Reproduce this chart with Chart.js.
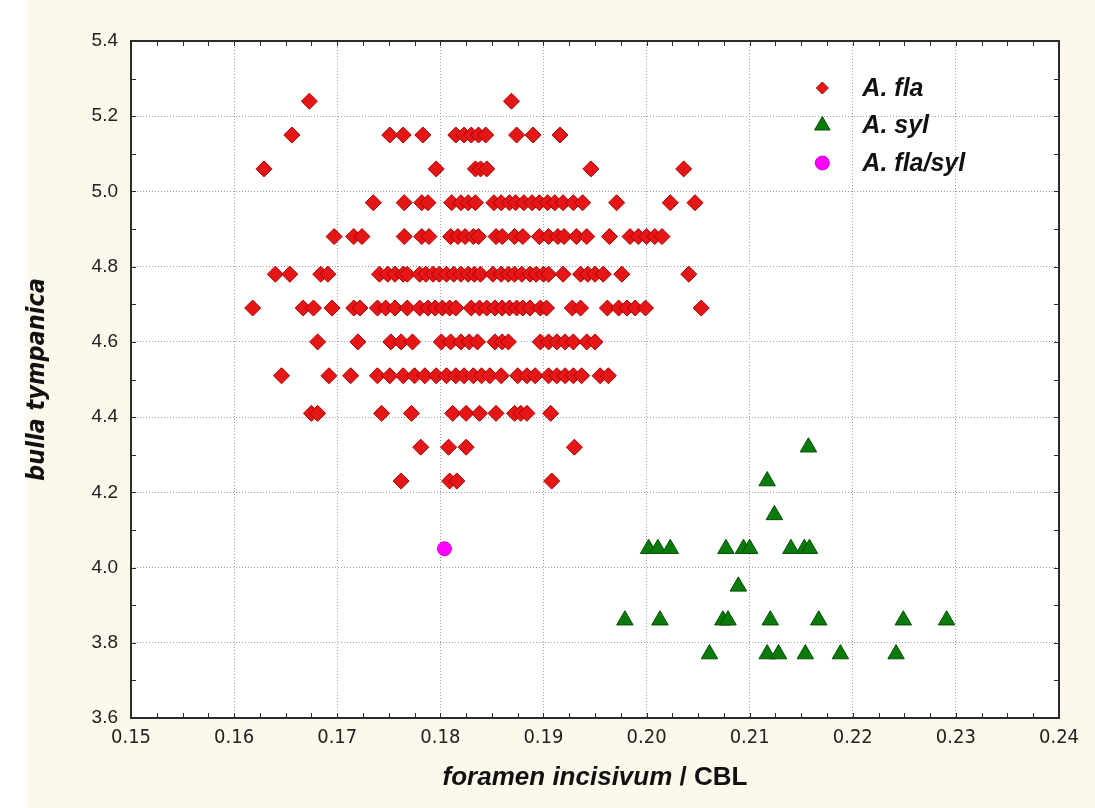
<!DOCTYPE html>
<html>
<head>
<meta charset="utf-8">
<title>bulla tympanica / foramen incisivum</title>
<script src="https://cdn.jsdelivr.net/npm/chart.js@4.4.1/dist/chart.umd.min.js"></script>
<style>
  html, body { margin: 0; padding: 0; background: #fcf8ec; overflow: hidden; scrollbar-width: none; }
  ::-webkit-scrollbar { display: none; }
  body { width: 1095px; height: 808px; }
  #wrap { position: relative; width: 1095px; height: 808px; }
  canvas { display: block; }
</style>
</head>
<body>
<div id="wrap"><canvas id="scatterChart" width="1095" height="808"></canvas></div>
<script>
// axis ticks
var xTicks = [0.15, 0.16, 0.17, 0.18, 0.19, 0.20, 0.21, 0.22, 0.23, 0.24];
var yTicks = [3.6, 3.8, 4.0, 4.2, 4.4, 4.6, 4.8, 5.0, 5.2, 5.4];

// A. fla : bulla levels and the x values found on each level
var flaLevels = [5.24, 5.15, 5.06, 4.97, 4.88, 4.78, 4.69, 4.60, 4.51, 4.41, 4.32, 4.23];
var flaX = [
  [0.1673, 0.1869],
  [0.1656, 0.1751, 0.1764, 0.1783, 0.1815, 0.1823, 0.1830, 0.1837, 0.1844, 0.1874, 0.1890, 0.1916],
  [0.1629, 0.1796, 0.1834, 0.1839, 0.1845, 0.1946, 0.2036],
  [0.1735, 0.1765, 0.1782, 0.1788, 0.1811, 0.1820, 0.1827, 0.1834, 0.1852, 0.1859, 0.1867, 0.1873,
   0.1881, 0.1889, 0.1896, 0.1904, 0.1911, 0.1919, 0.1929, 0.1938, 0.1971, 0.2023, 0.2047],
  [0.1697, 0.1716, 0.1724, 0.1765, 0.1782, 0.1789, 0.1810, 0.1817, 0.1824, 0.1832, 0.1837, 0.1854,
   0.1860, 0.1872, 0.1880, 0.1896, 0.1905, 0.1914, 0.1920, 0.1932, 0.1942, 0.1964, 0.1984, 0.1992,
   0.2000, 0.2008, 0.2015],
  [0.1640, 0.1654, 0.1684, 0.1691, 0.1741, 0.1749, 0.1756, 0.1764, 0.1768, 0.1780, 0.1786, 0.1793,
   0.1799, 0.1806, 0.1813, 0.1820, 0.1827, 0.1833, 0.1839, 0.1851, 0.1859, 0.1866, 0.1872, 0.1879,
   0.1887, 0.1893, 0.1900, 0.1905, 0.1919, 0.1936, 0.1943, 0.1950, 0.1958, 0.1976, 0.2041],
  [0.1618, 0.1667, 0.1677, 0.1695, 0.1716, 0.1722, 0.1739, 0.1747, 0.1756, 0.1768, 0.1780, 0.1788,
   0.1795, 0.1802, 0.1809, 0.1815, 0.1830, 0.1838, 0.1845, 0.1853, 0.1860, 0.1867, 0.1874, 0.1880,
   0.1887, 0.1897, 0.1903, 0.1928, 0.1936, 0.1962, 0.1973, 0.1981, 0.1989, 0.1999, 0.2053],
  [0.1681, 0.1720, 0.1752, 0.1762, 0.1773, 0.1801, 0.1810, 0.1820, 0.1828, 0.1836, 0.1853, 0.1860,
   0.1866, 0.1897, 0.1905, 0.1913, 0.1921, 0.1929, 0.1942, 0.1950],
  [0.1646, 0.1692, 0.1713, 0.1739, 0.1751, 0.1764, 0.1775, 0.1785, 0.1796, 0.1806, 0.1815, 0.1823,
   0.1832, 0.1840, 0.1848, 0.1859, 0.1875, 0.1884, 0.1892, 0.1905, 0.1913, 0.1921, 0.1929, 0.1937,
   0.1955, 0.1963],
  [0.1675, 0.1681, 0.1743, 0.1772, 0.1812, 0.1825, 0.1838, 0.1854, 0.1872, 0.1878, 0.1884, 0.1907],
  [0.1781, 0.1808, 0.1825, 0.1930],
  [0.1762, 0.1809, 0.1816, 0.1908]
];

// A. syl
var sylLevels = [4.32, 4.23, 4.14, 4.05, 3.95, 3.86, 3.77];
var sylX = [
  [0.2157],
  [0.2117],
  [0.2124],
  [0.2002, 0.2011, 0.2023, 0.2077, 0.2094, 0.2100, 0.2140, 0.2153, 0.2158],
  [0.2089],
  [0.1979, 0.2013, 0.2074, 0.2079, 0.2120, 0.2167, 0.2249, 0.2291],
  [0.2061, 0.2117, 0.2128, 0.2154, 0.2188, 0.2242]
];

// A. fla/syl
var hybridX = [0.1804];
var hybridY = [4.05];

function levelPoints(levels, xs) {
  var pts = [];
  for (var i = 0; i < levels.length; i++) {
    for (var j = 0; j < xs[i].length; j++) {
      pts.push({x: xs[i][j], y: levels[i]});
    }
  }
  return pts;
}

function pairPoints(xs, ys) {
  return xs.map(function(v, i) { return {x: v, y: ys[i]}; });
}

// draw one marker (used by the legend)
function marker(ctx, style, r, x, y) {
  ctx.beginPath();
  if (style === 'rectRot') {
    ctx.moveTo(x - r, y); ctx.lineTo(x, y - r); ctx.lineTo(x + r, y); ctx.lineTo(x, y + r);
  } else if (style === 'triangle') {
    ctx.moveTo(x, y - r);
    ctx.lineTo(x + r * 0.866, y + r / 2);
    ctx.lineTo(x - r * 0.866, y + r / 2);
  } else {
    ctx.arc(x, y, r, 0, Math.PI * 2);
  }
  ctx.closePath();
  ctx.fill();
  ctx.stroke();
}

// cream page, thin white strip on the left, white plot area
var plotBackground = {
  id: 'plotBackground',
  beforeDraw: function(chart) {
    var a = chart.chartArea, ctx = chart.ctx;
    ctx.save();
    ctx.fillStyle = '#fcf8ec';
    ctx.fillRect(0, 0, chart.width, chart.height);
    var g = ctx.createLinearGradient(0, 0, 30, 0);
    g.addColorStop(0, '#ffffff');
    g.addColorStop(0.75, '#ffffff');
    g.addColorStop(1, '#fcf8ec');
    ctx.fillStyle = g;
    ctx.fillRect(0, 0, 30, chart.height);
    ctx.fillStyle = '#ffffff';
    ctx.fillRect(a.left, a.top, a.right - a.left, a.bottom - a.top);
    ctx.restore();
  }
};

// frame with small inward ticks on all sides
var plotFrame = {
  id: 'plotFrame',
  afterDraw: function(chart) {
    var a = chart.chartArea, ctx = chart.ctx;
    var sx = chart.scales.x, sy = chart.scales.y;
    var i, p;
    ctx.save();
    ctx.strokeStyle = '#2b2b2b';
    ctx.lineWidth = 1;
    ctx.beginPath();
    for (i = 0; i <= 36; i++) {
      p = Math.round(sx.getPixelForValue(0.15 + i * 0.0025)) + 0.5;
      ctx.moveTo(p, a.top); ctx.lineTo(p, a.top + 5);
      ctx.moveTo(p, a.bottom); ctx.lineTo(p, a.bottom - 5);
    }
    for (i = 0; i <= 18; i++) {
      p = Math.round(sy.getPixelForValue(3.6 + i * 0.1)) + 0.5;
      ctx.moveTo(a.left, p); ctx.lineTo(a.left + 5, p);
      ctx.moveTo(a.right, p); ctx.lineTo(a.right - 5, p);
    }
    ctx.stroke();
    ctx.lineWidth = 2;
    ctx.strokeRect(a.left, a.top, a.right - a.left, a.bottom - a.top);
    ctx.restore();
  }
};

// x axis title: italic name, upright "/ CBL"
var xTitle = {
  id: 'xTitle',
  afterDraw: function(chart) {
    var a = chart.chartArea, ctx = chart.ctx;
    var part1 = 'foramen incisivum ';
    var part2 = '/ CBL';
    var f1 = 'italic bold 26px "Liberation Sans", Arial, sans-serif';
    var f2 = 'bold 26px "Liberation Sans", Arial, sans-serif';
    ctx.save();
    ctx.font = f1;
    var w1 = ctx.measureText(part1).width;
    ctx.font = f2;
    var w2 = ctx.measureText(part2).width;
    var x = (a.left + a.right) / 2 - (w1 + w2) / 2;
    var y = 778;
    ctx.fillStyle = '#111111';
    ctx.textBaseline = 'middle';
    ctx.textAlign = 'left';
    ctx.font = f1;
    ctx.fillText(part1, x, y);
    ctx.font = f2;
    ctx.fillText(part2, x + w1, y);
    ctx.restore();
  }
};

// legend inside the plot, top right
var insideLegend = {
  id: 'insideLegend',
  afterDraw: function(chart) {
    var a = chart.chartArea, ctx = chart.ctx;
    var mx = a.left + (a.right - a.left) * 0.745;
    var y0 = a.top + 47;
    ctx.save();
    chart.data.datasets.forEach(function(ds, i) {
      var y = y0 + i * 37.5;
      ctx.fillStyle = ds.backgroundColor;
      ctx.strokeStyle = ds.borderColor;
      ctx.lineWidth = 1;
      marker(ctx, ds.pointStyle, ds.legendRadius, mx, y);
      ctx.fillStyle = '#111111';
      ctx.font = 'italic bold 25px "Liberation Sans", Arial, sans-serif';
      ctx.textBaseline = 'middle';
      ctx.textAlign = 'left';
      ctx.fillText(ds.label, mx + 40, y + 1);
    });
    ctx.restore();
  }
};

var config = {
  type: 'scatter',
  data: {
    datasets: [{
      label: 'A. fla',
      data: levelPoints(flaLevels, flaX),
      pointStyle: 'rectRot',
      pointRadius: 8,
      legendRadius: 6,
      backgroundColor: '#e61616',
      borderColor: '#a80000',
      borderWidth: 1
    }, {
      label: 'A. syl',
      data: levelPoints(sylLevels, sylX),
      pointStyle: 'triangle',
      pointRadius: 9.5,
      legendRadius: 9,
      backgroundColor: '#0a7a0a',
      borderColor: '#045004',
      borderWidth: 1
    }, {
      label: 'A. fla/syl',
      data: pairPoints(hybridX, hybridY),
      pointStyle: 'circle',
      pointRadius: 7,
      legendRadius: 7,
      backgroundColor: '#ff00ff',
      borderColor: '#d000d0',
      borderWidth: 1
    }]
  },
  options: {
    responsive: false,
    animation: false,
    layout: { padding: { left: 0, top: 41, right: 36, bottom: 0 } },
    plugins: {
      legend: { display: false },
      tooltip: { enabled: false }
    },
    scales: {
      x: {
        type: 'linear',
        min: 0.15,
        max: 0.24,
        afterBuildTicks: function(scale) {
          scale.ticks = xTicks.map(function(v) { return {value: v}; });
        },
        afterFit: function(scale) { scale.height = 90; },
        grid: { color: '#a0a0a0', lineWidth: 1, drawTicks: false },
        border: { display: false, dash: [1, 2] },
        ticks: {
          padding: 8,
          color: '#222222',
          font: { family: '"DejaVu Sans Condensed", "Liberation Sans", Arial', size: 20 },
          callback: function(v) { return Number(v).toFixed(2); }
        },
        title: { display: false }
      },
      y: {
        type: 'linear',
        min: 3.6,
        max: 5.4,
        afterBuildTicks: function(scale) {
          scale.ticks = yTicks.map(function(v) { return {value: v}; });
        },
        afterFit: function(scale) { scale.width = 131; },
        grid: { color: '#a0a0a0', lineWidth: 1, drawTicks: false },
        border: { display: false, dash: [1, 2] },
        ticks: {
          padding: 13,
          color: '#222222',
          font: { family: '"Liberation Sans", Arial', size: 19 },
          callback: function(v) { return Number(v).toFixed(1); }
        },
        title: {
          display: true,
          text: 'bulla tympanica',
          color: '#111111',
          font: { family: '"DejaVu Sans Condensed", "Liberation Sans", Arial', size: 25, style: 'italic', weight: 'bold' },
          padding: { top: 22, bottom: 0 }
        }
      }
    }
  },
  plugins: [plotBackground, plotFrame, xTitle, insideLegend]
};

window.scatterChart = new Chart(document.getElementById('scatterChart'), config);
</script>
</body>
</html>
